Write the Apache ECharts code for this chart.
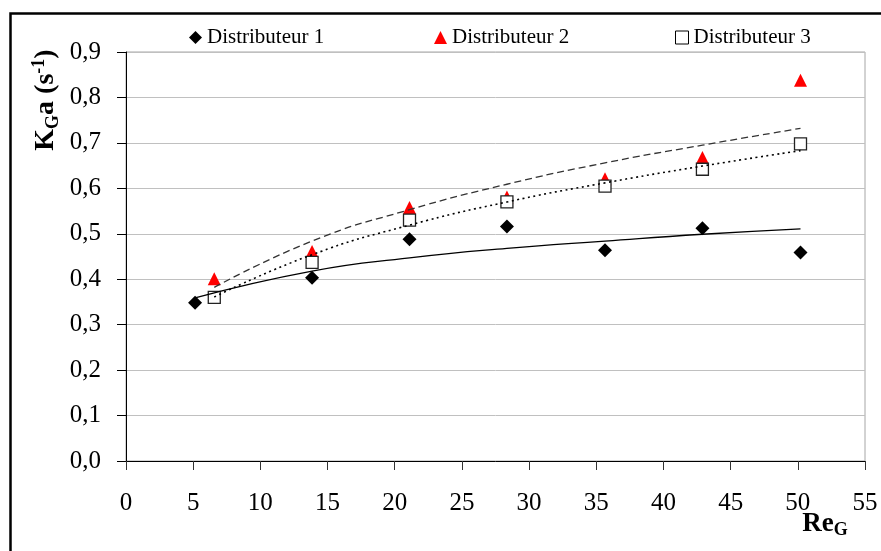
<!DOCTYPE html>
<html>
<head>
<meta charset="utf-8">
<script src="https://cdn.jsdelivr.net/npm/echarts@6/dist/echarts.min.js"></script>
<style>
html,body{margin:0;padding:0;background:#fff;}
#c{width:881px;height:551px;}
</style>
</head>
<body>
<div id="c"></div>
<script>
// Reynolds numbers (x) and K_G a values (y)
const xD1 = [5.14, 13.85, 21.1, 28.35, 35.65, 42.9, 50.2];
const yD1 = [0.348, 0.403, 0.488, 0.516, 0.464, 0.512, 0.459];
const xD23 = [6.57, 13.85, 21.1, 28.35, 35.65, 42.9, 50.2];
const yD2 = [0.401, 0.461, 0.558, 0.581, 0.621, 0.668, 0.838];
const yD3 = [0.360, 0.437, 0.530, 0.570, 0.605, 0.642, 0.698];
// trend curves at the same x positions
const tD1 = [0.359, 0.418, 0.447, 0.468, 0.484, 0.499, 0.511];
const tD2 = [0.382, 0.484, 0.553, 0.609, 0.656, 0.695, 0.732];
const tD3 = [0.361, 0.454, 0.519, 0.570, 0.612, 0.649, 0.683];
const names = ['Distributeur 1', 'Distributeur 2', 'Distributeur 3'];
const yTicks = ['0,0','0,1','0,2','0,3','0,4','0,5','0,6','0,7','0,8','0,9'];

const pairs = (xs, ys) => xs.map((x, i) => [x, ys[i]]);
const FONT = '"Liberation Serif", "Times New Roman", serif';

const chart = echarts.init(document.getElementById('c'), null, {renderer: 'canvas'});
const legendBase = {
  top: 22, itemWidth: 13, itemHeight: 13,
  textStyle: {fontFamily: FONT, fontSize: 21, color: '#000'},
  selectedMode: false
};
chart.setOption({
  animation: false,
  backgroundColor: '#fff',
  grid: {left: 126, right: 16, top: 52, bottom: 90, show: true, borderColor: '#a6a6a6', borderWidth: 1},
  legend: [
    Object.assign({}, legendBase, {left: 184, data: [{name: names[0], icon: 'diamond', itemStyle: {color: '#000', opacity: 1}}]}),
    Object.assign({}, legendBase, {left: 429, data: [{name: names[1], icon: 'triangle', itemStyle: {color: '#ff0000', opacity: 1}}]}),
    Object.assign({}, legendBase, {left: 670, data: [{name: names[2], icon: 'rect', itemStyle: {color: '#fff', borderColor: '#000', borderWidth: 1, opacity: 1}}]})
  ],
  xAxis: {
    type: 'value', min: 0, max: 55, interval: 5,
    axisLine: {show: true, onZero: false, lineStyle: {color: '#000', width: 1}},
    axisTick: {show: true, length: 9, lineStyle: {color: '#333'}},
    axisLabel: {fontFamily: FONT, fontSize: 25, color: '#000', margin: 30},
    splitLine: {show: false}
  },
  yAxis: {
    type: 'value', min: 0, max: 0.9, interval: 0.1,
    axisLine: {show: true, lineStyle: {color: '#000', width: 1}},
    axisTick: {show: true, length: 9, lineStyle: {color: '#000'}},
    axisLabel: {fontFamily: FONT, fontSize: 25, color: '#000', margin: 25,
      formatter: (v) => yTicks[Math.round(v * 10)]},
    splitLine: {show: true, lineStyle: {color: '#c0c0c0', width: 1}}
  },
  graphic: [
    {type: 'rect', shape: {x: 10.5, y: 13.5, width: 900, height: 600}, style: {fill: 'none', stroke: '#000', lineWidth: 2.5}, silent: true, z: 100},
    {type: 'text', x: 46, y: 100, rotation: Math.PI / 2,
      style: {
        text: '{b|K}{sub|G}{b|a (s}{sup|-1}{b|)}',
        align: 'center', verticalAlign: 'middle',
        rich: {
          b: {fontFamily: FONT, fontWeight: 'bold', fontSize: 28, lineHeight: 32, fill: '#000'},
          sub: {fontFamily: FONT, fontWeight: 'bold', fontSize: 18, lineHeight: 14, verticalAlign: 'bottom', fill: '#000'},
          sup: {fontFamily: FONT, fontWeight: 'bold', fontSize: 18, lineHeight: 14, verticalAlign: 'top', fill: '#000'}
        }
      }, z: 100},
    {type: 'text', x: 825, y: 524,
      style: {
        text: '{b|Re}{sub|G}',
        align: 'center', verticalAlign: 'middle',
        rich: {
          b: {fontFamily: FONT, fontWeight: 'bold', fontSize: 27, lineHeight: 30, fill: '#000'},
          sub: {fontFamily: FONT, fontWeight: 'bold', fontSize: 18, lineHeight: 14, verticalAlign: 'bottom', fill: '#000'}
        }
      }, z: 100}
  ],
  series: [
    {name: names[0], type: 'scatter', symbol: 'diamond', symbolSize: 14,
      itemStyle: {color: '#000', opacity: 1}, data: pairs(xD1, yD1), z: 2},
    {name: names[1], type: 'scatter', symbol: 'triangle', symbolSize: 13,
      itemStyle: {color: '#ff0000', opacity: 1}, data: pairs(xD23, yD2), z: 3},
    {name: names[2], type: 'scatter', symbol: 'rect', symbolSize: 12,
      itemStyle: {color: '#fff', borderColor: '#222', borderWidth: 1.3, opacity: 1}, data: pairs(xD23, yD3), z: 4},
    {name: 'trend1', type: 'line', smooth: 0.5, showSymbol: false, symbol: 'none',
      lineStyle: {color: '#000', width: 1.3, type: 'solid'}, data: pairs(xD1, tD1), z: 5, silent: true},
    {name: 'trend2', type: 'line', smooth: 0.5, showSymbol: false, symbol: 'none',
      lineStyle: {color: '#333', width: 1.3, type: [7, 4]}, data: pairs(xD23, tD2), z: 5, silent: true},
    {name: 'trend3', type: 'line', smooth: 0.5, showSymbol: false, symbol: 'none',
      lineStyle: {color: '#000', width: 1.6, type: [2, 3.5]}, data: pairs(xD23, tD3), z: 5, silent: true}
  ]
});
</script>
</body>
</html>
